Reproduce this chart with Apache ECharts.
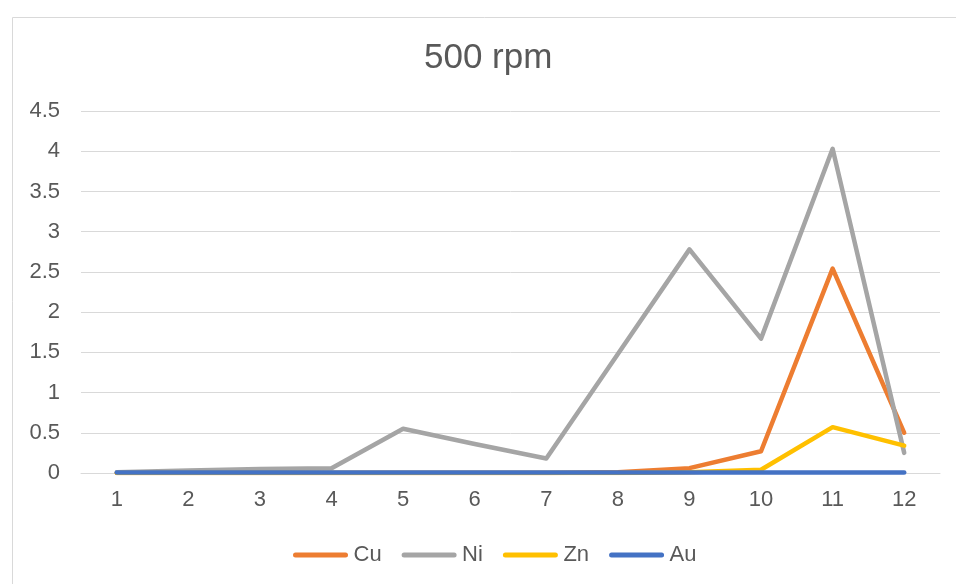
<!DOCTYPE html>
<html>
<head>
<meta charset="utf-8">
<script src="https://cdn.jsdelivr.net/npm/echarts@6/dist/echarts.min.js"></script>
<style>
html,body{margin:0;padding:0;background:#fff;}
#c{width:956px;height:584px;}
</style>
</head>
<body>
<div id="c"></div>
<script>
var categories = ['1','2','3','4','5','6','7','8','9','10','11','12'];
var cu = [0, 0, 0, 0, 0, 0, 0, 0.01, 0.06, 0.27, 2.54, 0.50];
var ni = [0.01, 0.03, 0.05, 0.06, 0.55, 0.36, 0.18, 1.48, 2.78, 1.67, 4.03, 0.25];
var zn = [0, 0, 0, 0, 0, 0, 0, 0, 0.01, 0.04, 0.57, 0.34];
var au = [0.005, 0.005, 0.005, 0.005, 0.005, 0.005, 0.005, 0.005, 0.005, 0.005, 0.005, 0.005];
var seriesNames = ['Cu', 'Ni', 'Zn', 'Au'];
var colors = ['#ED7D31', '#A5A5A5', '#FFC000', '#4472C4'];
var yTicks = [0, 0.5, 1, 1.5, 2, 2.5, 3, 3.5, 4, 4.5];

var chart = echarts.init(document.getElementById('c'));
var txt = '#595959';
var font = 'Liberation Sans, Arial, sans-serif';
function mk(name, data, color) {
  return {
    name: name, type: 'line', data: data, symbol: 'none',
    lineStyle: { color: color, width: 4.5, cap: 'round', join: 'round' },
    itemStyle: { color: color },
    animation: false
  };
}
var icon = 'path://M2.5,0 H52.5 A2.5,2.5 0 0 1 52.5,5 H2.5 A2.5,2.5 0 0 1 2.5,0 Z';
chart.setOption({
  animation: false,
  color: colors,
  graphic: [{
    type: 'rect', left: 10, top: 15,
    shape: { width: 960, height: 600 },
    style: { fill: 'none', stroke: '#d9d9d9', lineWidth: 1 },
    silent: true
  }],
  title: {
    text: '500 rpm', left: 419, top: 36,
    textStyle: { color: txt, fontSize: 35, fontWeight: 'normal', fontFamily: font }
  },
  legend: {
    top: 539, left: 288,
    icon: icon,
    itemWidth: 56, itemHeight: 5, itemGap: 20,
    textStyle: { color: txt, fontSize: 22, fontFamily: font },
    data: seriesNames.map(function (n, i) { return { name: n, itemStyle: { color: colors[i] } }; })
  },
  grid: { left: 81, right: 16, top: 111, bottom: 111, containLabel: false },
  xAxis: {
    type: 'category', data: categories, boundaryGap: true,
    axisLine: { lineStyle: { color: '#d9d9d9', width: 1 } },
    axisTick: { show: false },
    axisLabel: { color: txt, fontSize: 22, fontFamily: font, margin: 16 }
  },
  yAxis: {
    type: 'value', min: 0, max: 4.5, interval: 0.5,
    axisLine: { show: false }, axisTick: { show: false },
    splitLine: { lineStyle: { color: '#d9d9d9', width: 1 } },
    axisLabel: { color: txt, fontSize: 22, fontFamily: font, margin: 21,
      formatter: function (v) { return yTicks.indexOf(v) >= 0 ? String(v) : ''; } }
  },
  series: [mk('Cu', cu, colors[0]), mk('Ni', ni, colors[1]), mk('Zn', zn, colors[2]), mk('Au', au, colors[3])]
});
</script>
</body>
</html>
